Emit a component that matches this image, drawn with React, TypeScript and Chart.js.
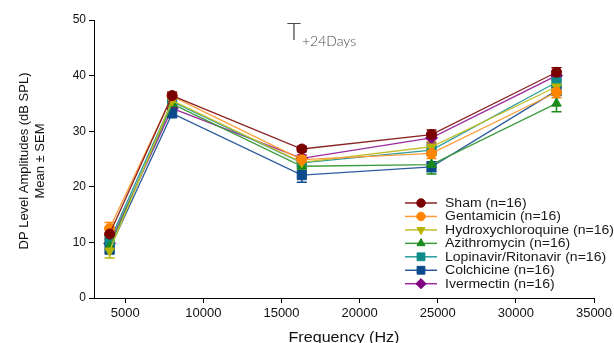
import React, { useEffect, useRef } from "react";
import { Chart, registerables } from "chart.js";
import { drawPoint } from "chart.js/helpers";

Chart.register(...registerables);

// ---- data ----
const frequencies = [4000, 8000, 16300, 24600, 32600];

const seriesNames = [
  "Sham (n=16)",
  "Gentamicin (n=16)",
  "Hydroxychloroquine (n=16)",
  "Azithromycin (n=16)",
  "Lopinavir/Ritonavir (n=16)",
  "Colchicine (n=16)",
  "Ivermectin (n=16)",
];

const shamMean = [11.5, 36.4, 26.8, 29.4, 40.6];
const gentamicinMean = [12.5, 36.3, 24.9, 26.0, 37.0];
const hydroxyMean = [8.5, 35.5, 24.4, 27.2, 38.0];
const azithroMean = [9.2, 34.9, 23.7, 24.0, 35.0];
const lopinavirMean = [10.3, 35.3, 24.3, 26.6, 38.8];
const colchicineMean = [8.8, 33.2, 22.1, 23.6, 37.3];
const ivermectinMean = [9.8, 34.1, 25.1, 28.8, 40.0];

const shamSem = [1.0, 0.6, 0.5, 0.8, 0.8];
const gentamicinSem = [1.1, 0.6, 0.7, 0.9, 1.0];
const hydroxySem = [1.3, 0.7, 0.7, 0.9, 0.9];
const azithroSem = [1.0, 0.7, 0.7, 1.7, 1.5];
const lopinavirSem = [0.9, 0.7, 0.6, 0.9, 0.8];
const colchicineSem = [0.9, 0.7, 1.3, 0.9, 0.9];
const ivermectinSem = [0.9, 0.6, 0.6, 0.9, 0.8];

const xTickValues = [5000, 10000, 15000, 20000, 25000, 30000, 35000];
const yTickValues = [0, 10, 20, 30, 40, 50];

const titleMain = "T";
const titleSub = "+24Days";
const xTitle = "Frequency (Hz)";
const yTitleLines = ["DP Level Amplitudes (dB SPL)", "Mean \u00b1 SEM"];

// ---- styles ----
const means = [shamMean, gentamicinMean, hydroxyMean, azithroMean, lopinavirMean, colchicineMean, ivermectinMean];
const sems = [shamSem, gentamicinSem, hydroxySem, azithroSem, lopinavirSem, colchicineSem, ivermectinSem];
const markerColors = ["#7a0000", "#ff8400", "#b8b400", "#1a8a1a", "#0e8a8a", "#0a4a8c", "#800080"];
const lineColors = ["#8b2222", "#ff9c3a", "#c2bf2a", "#3c9c3c", "#2a9c9c", "#2c5c9c", "#9c2c9c"];
const pointStyles = ["circle", "circle", "triangle", "triangle", "rect", "rect", "rectRot"];
const pointRotations = [0, 180, 180, 0, 0, 0, 0];
const pointRadii = [5, 5, 5.5, 5.5, 6.5, 6.5, 6];

const FONT = "'Liberation Sans', Arial, sans-serif";

const errorBarPlugin = {
  id: "errorBars",
  beforeDatasetsDraw(chart: any) {
    const ctx = chart.ctx;
    const xs = chart.scales.x;
    const ys = chart.scales.y;
    ctx.save();
    for (let i = means.length - 1; i >= 0; i--) {
      ctx.strokeStyle = markerColors[i];
      ctx.lineWidth = 1.5;
      for (let j = 0; j < frequencies.length; j++) {
        const px = xs.getPixelForValue(frequencies[j]);
        const top = ys.getPixelForValue(means[i][j] + sems[i][j]);
        const bot = ys.getPixelForValue(means[i][j] - sems[i][j]);
        ctx.beginPath();
        ctx.moveTo(px, top);
        ctx.lineTo(px, bot);
        ctx.moveTo(px - 5, top);
        ctx.lineTo(px + 5, top);
        ctx.moveTo(px - 5, bot);
        ctx.lineTo(px + 5, bot);
        ctx.stroke();
      }
    }
    ctx.restore();
  },
};

const decorPlugin = {
  id: "decor",
  afterDraw(chart: any) {
    const ctx = chart.ctx;
    const area = chart.chartArea;
    ctx.save();
    // title
    ctx.fillStyle = "#4a4a4a";
    ctx.textBaseline = "alphabetic";
    ctx.textAlign = "left";
    ctx.font = `300 24px Lato, 'Open Sans', sans-serif`;
    ctx.fillText(titleMain, 287, 40);
    const tw = ctx.measureText(titleMain).width;
    ctx.font = `300 14px Lato, 'Open Sans', sans-serif`;
    ctx.fillText(titleSub, 287 + tw + 1, 46);

    // y title
    ctx.fillStyle = "#111";
    ctx.font = `13px ${FONT}`;
    ctx.textAlign = "center";
    ctx.textBaseline = "middle";
    const cy = 161;
    const xsPos = [24, 40];
    yTitleLines.forEach((t, k) => {
      ctx.save();
      ctx.translate(xsPos[k], cy);
      ctx.rotate(-Math.PI / 2);
      ctx.fillText(t, 0, 0);
      ctx.restore();
    });

    // x title
    ctx.save();
    ctx.font = `14px ${FONT}`;
    ctx.textBaseline = "alphabetic";
    ctx.translate((area.left + area.right) / 2, 342);
    ctx.scale(1.15, 1);
    ctx.fillText(xTitle, 0, 0);
    ctx.restore();

    // legend
    const rowY0 = 203;
    const rowStep = 13.45;
    for (let i = 0; i < seriesNames.length; i++) {
      const y = rowY0 + i * rowStep;
      ctx.strokeStyle = lineColors[i];
      ctx.lineWidth = 1.5;
      ctx.beginPath();
      ctx.moveTo(405, y);
      ctx.lineTo(437, y);
      ctx.stroke();
      ctx.fillStyle = markerColors[i];
      ctx.strokeStyle = markerColors[i];
      ctx.lineWidth = 1;
      drawPoint(ctx, { pointStyle: pointStyles[i], radius: pointRadii[i] * 0.85, rotation: pointRotations[i], borderWidth: 1 } as any, 421, y);
      ctx.save();
      ctx.fillStyle = "#1a1a1a";
      ctx.font = `12px ${FONT}`;
      ctx.textAlign = "left";
      ctx.textBaseline = "middle";
      ctx.translate(445, y + 0.5);
      ctx.scale(1.17, 1);
      ctx.fillText(seriesNames[i], 0, 0);
      ctx.restore();
    }
    ctx.restore();
  },
};

export default function App() {
  const canvasRef = useRef<HTMLCanvasElement | null>(null);

  useEffect(() => {
    const canvas = canvasRef.current;
    if (!canvas) return;
    const datasets = means.map((m, i) => ({
      label: seriesNames[i],
      data: frequencies.map((f, j) => ({ x: f, y: m[j] })),
      borderColor: lineColors[i],
      backgroundColor: markerColors[i],
      borderWidth: 1.3,
      pointStyle: pointStyles[i] as any,
      pointRotation: pointRotations[i],
      pointRadius: pointRadii[i],
      pointBorderColor: markerColors[i],
      pointBackgroundColor: markerColors[i],
      pointBorderWidth: 1,
      tension: 0,
      fill: false,
    }));

    const chart = new Chart(canvas, {
      type: "line",
      data: { datasets },
      plugins: [errorBarPlugin, decorPlugin],
      options: {
        responsive: false,
        animation: false,
        devicePixelRatio: 1,
        layout: { padding: { left: 0, right: 46, top: 20, bottom: 0 } },
        plugins: {
          legend: { display: false },
          tooltip: { enabled: false },
          title: { display: false },
        },
        scales: {
          x: {
            type: "linear",
            min: 3000,
            max: 35000,
            afterBuildTicks: (s: any) => {
              s.ticks = xTickValues.map((v) => ({ value: v }));
            },
            afterFit: (s: any) => {
              s.height = 45;
            },
            grid: { display: true, drawOnChartArea: false, drawTicks: true, tickLength: 5, color: "#000", lineWidth: 1 },
            border: { display: true, color: "#000", width: 1 },
            ticks: {
              color: "#111",
              font: { size: 13, family: FONT },
              padding: 3,
              maxRotation: 0,
              autoSkip: false,
              callback: (v: any) => String(v),
            },
          },
          y: {
            type: "linear",
            min: 0,
            max: 50,
            afterBuildTicks: (s: any) => {
              s.ticks = yTickValues.map((v) => ({ value: v }));
            },
            afterFit: (s: any) => {
              s.width = 94;
            },
            grid: { display: true, drawOnChartArea: false, drawTicks: true, tickLength: 5, color: "#000", lineWidth: 1 },
            border: { display: true, color: "#000", width: 1 },
            ticks: {
              color: "#111",
              font: { size: 12, family: FONT },
              padding: 3,
              autoSkip: false,
              callback: (v: any) => String(v),
            },
          },
        },
      },
    });
    return () => chart.destroy();
  }, []);

  return (
    <div style={{ position: "absolute", left: 0, top: 0, width: 614, height: 343, overflow: "hidden", background: "#fff" }}>
      <canvas ref={canvasRef} width={640} height={343} style={{ display: "block" }} />
    </div>
  );
}
